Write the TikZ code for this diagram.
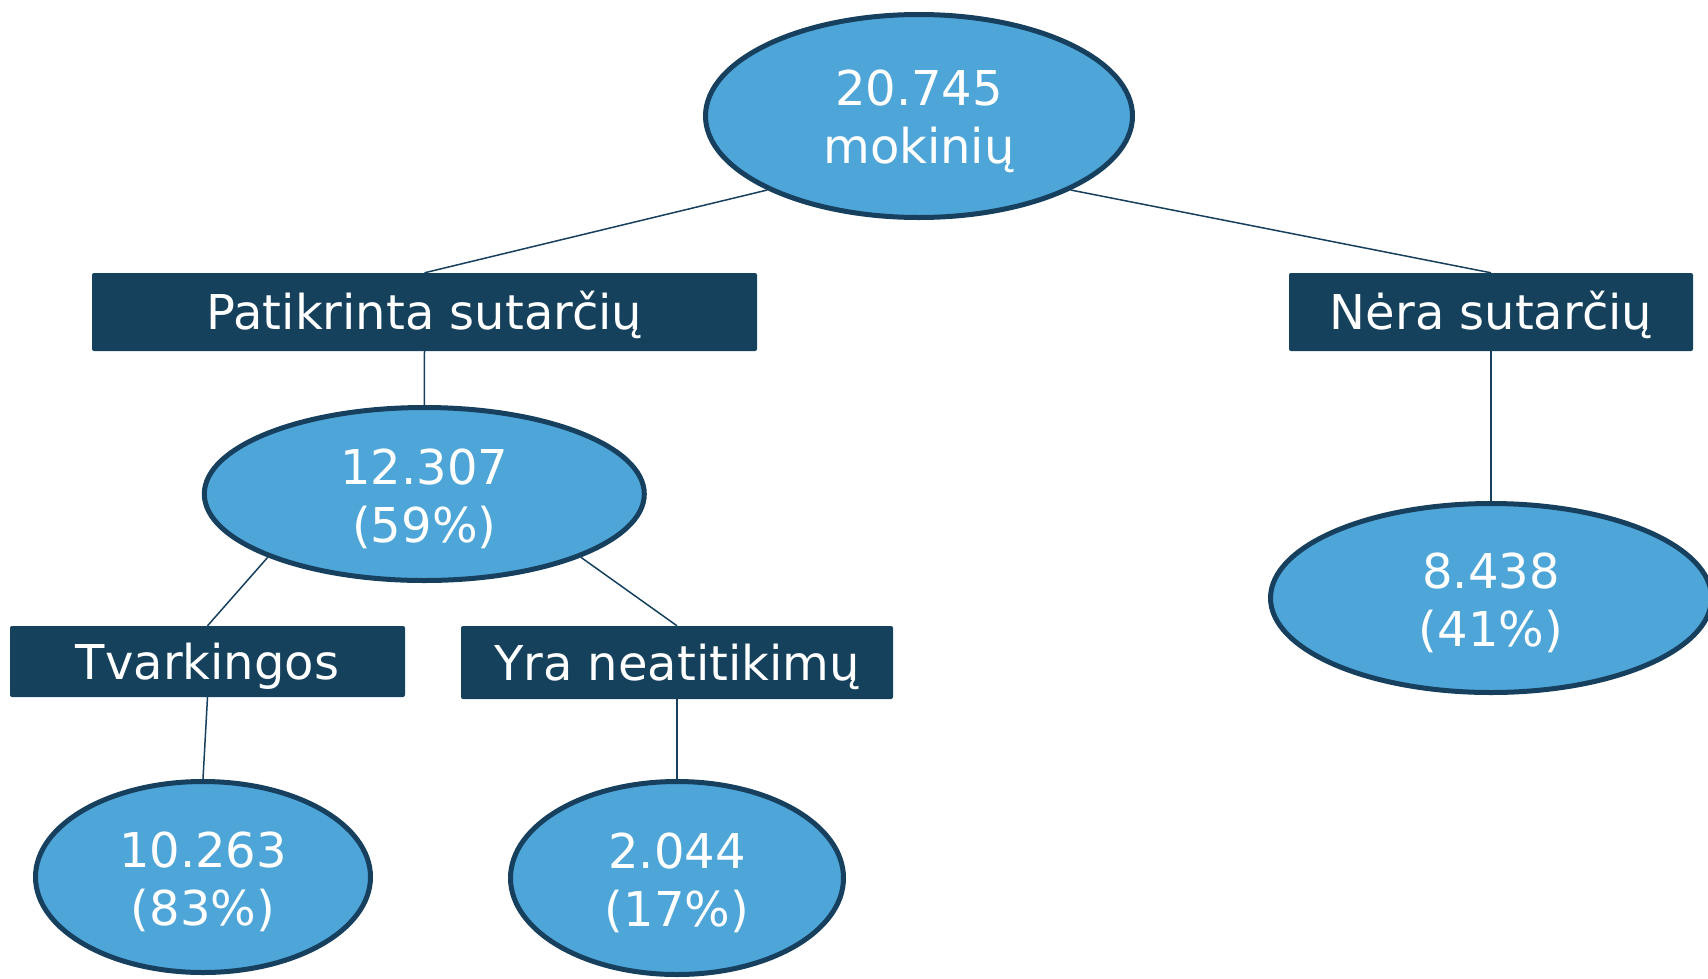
\documentclass[tikz,border=0pt]{standalone}
\usepackage{fontspec}
\setmainfont{DejaVu Sans}
\usetikzlibrary{shapes.geometric}
\definecolor{ellfill}{RGB}{78,165,216}
\definecolor{darkblue}{RGB}{23,64,94}
\definecolor{boxfill}{RGB}{22,65,92}
\begin{document}
\begin{tikzpicture}[x=1pt,y=-1pt,
  ell/.style={ellipse,draw=darkblue,line width=5pt,fill=ellfill,inner sep=0pt},
  etxt/.style={inner sep=0pt,text=white,align=center,font=\fontsize{48}{58}\selectfont},
  lab/.style={rectangle,fill=boxfill,rounded corners=2pt,inner sep=0pt,
    text=white,font=\fontsize{48}{56}\selectfont,text height=35pt,text depth=0pt},
  conn/.style={draw=darkblue,line width=1.5pt}]
\useasboundingbox (0,0) rectangle (1708,978);
\node[ell,minimum width=427pt,minimum height=203pt] (top) at (919,116) {};
\node[etxt] (toptxt) at ([yshift=-5pt]top.center) {20.745\\mokinių};
\node[lab,minimum width=665pt,minimum height=78pt] (pat) at (424.5,312) {Patikrinta sutarčių};
\node[lab,minimum width=404pt,minimum height=78pt] (ner) at (1491,312) {Nėra sutarčių};
\node[ell,minimum width=440pt,minimum height=173pt] (e2) at (424.3,494) {};
\node[etxt] (e2txt) at ([yshift=-5pt]e2.center) {12.307\\(59\%)};
\node[ell,minimum width=441pt,minimum height=189pt] (e3) at (1491,598) {};
\node[etxt] (e3txt) at ([yshift=-5pt]e3.center) {8.438\\(41\%)};
\node[lab,minimum width=395pt,minimum height=71pt] (tv) at (207.5,661.5) {Tvarkingos};
\node[lab,minimum width=432pt,minimum height=73pt] (yra) at (677,662.5) {Yra neatitikimų};
\node[ell,minimum width=335pt,minimum height=191pt] (e4) at (203,877) {};
\node[etxt] (e4txt) at ([yshift=-5pt]e4.center) {10.263\\(83\%)};
\node[ell,minimum width=333pt,minimum height=193pt] (e5) at (677,878) {};
\node[etxt] (e5txt) at ([yshift=-5pt]e5.center) {2.044\\(17\%)};
\draw[conn] (top.206) -- (pat.north);
\draw[conn] (top.334) -- (ner.north);
\draw[conn] (pat.south) -- (e2.north);
\draw[conn] (ner.south) -- (e3.north);
\draw[conn] (e2.202) -- (tv.north);
\draw[conn] (e2.338) -- (yra.north);
\draw[conn] (tv.south) -- (e4.north);
\draw[conn] (yra.south) -- (e5.north);
\end{tikzpicture}
\end{document}
